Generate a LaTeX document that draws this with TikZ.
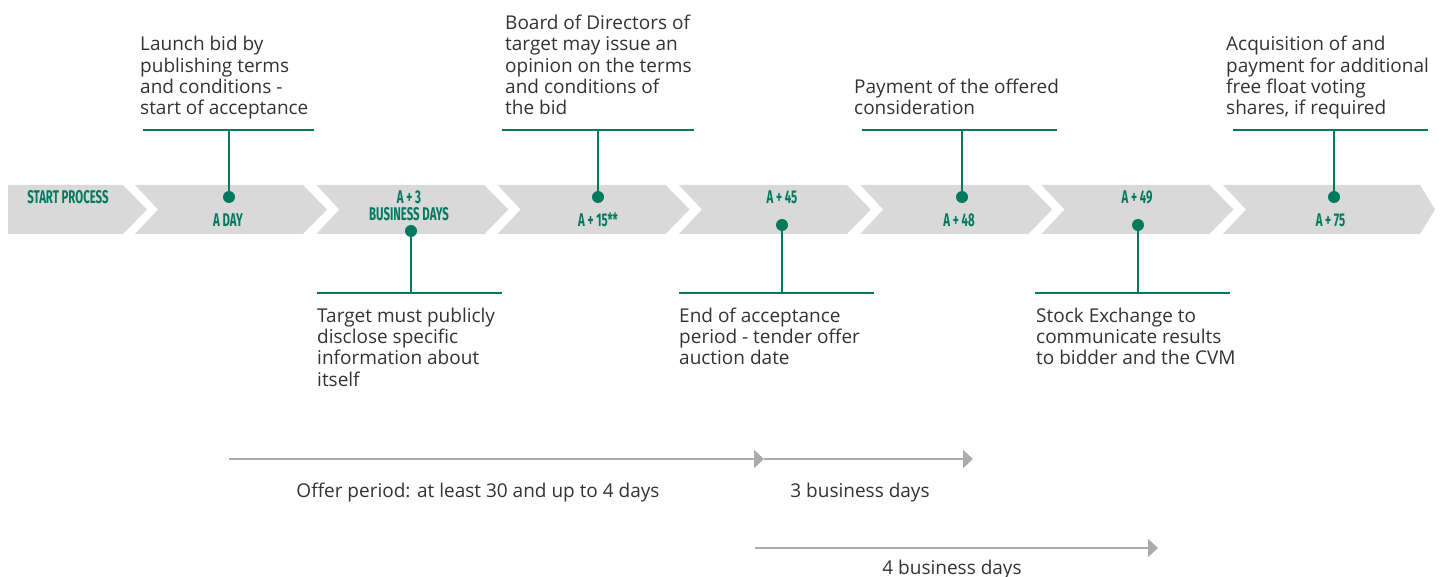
\documentclass[tikz,border=0pt]{standalone}
\usepackage{fontspec}
\setmainfont{Open Sans}
\newfontfamily\condfont[FakeStretch=0.62]{Fira Sans}
\usetikzlibrary{arrows.meta}
\definecolor{tgreen}{HTML}{007A5E}
\definecolor{chev}{HTML}{D9D9D9}
\definecolor{arrgray}{HTML}{ABABAB}
\definecolor{txt}{HTML}{333333}
\tikzset{
  lbl/.style={font=\condfont\bfseries\fontsize{18.4}{18}\selectfont, text=tgreen, inner sep=0, anchor=base},
  note/.style={font=\fontsize{19}{21.4}\selectfont, text=txt, align=left, inner sep=0, anchor=base west},
  dot/.style={circle, fill=tgreen, minimum size=12, inner sep=0},
  stem/.style={tgreen, line width=2},
  rulestyle/.style={tgreen, line width=2},
  span/.style={arrgray, line width=2, -{Triangle[length=10, width=18]}},
  spanlbl/.style={font=\fontsize{19}{21}\selectfont, text=txt, inner sep=0, anchor=base},
  chevfill/.style={fill=chev}
}
\begin{document}
\begin{tikzpicture}[x=1pt,y=-1pt]
\useasboundingbox (0,0) rectangle (1446,577);

% chevrons
\fill[chevfill] (8,185) -- (123,185) -- (147,209.5) -- (123,234) -- (8,234) -- cycle;
\foreach \k in {0,...,5}{
  \pgfmathsetmacro{\s}{135+181.3*\k}
  \fill[chevfill] (\s,185) -- ({\s+168},185) -- ({\s+192},209.5) -- ({\s+168},234) -- (\s,234) -- ({\s+23},209.5) -- cycle;
}
\fill[chevfill] (1223,185) -- (1420,185) -- (1435,209.5) -- (1420,234) -- (1223,234) -- (1246,209.5) -- cycle;

% chevron labels
\node[lbl] (c0) at (68,203.4) {START PROCESS};
\node[lbl] (c1) at (228,226.7) {A DAY};
\node[lbl] (c2a) at (409,203.3) {A + 3};
\node[lbl] (c2b) at (409,220.8) {BUSINESS DAYS};
\node[lbl] (c3) at (598,226.7) {A + 15**};
\node[lbl] (c4) at (782,203.3) {A + 45};
\node[lbl] (c5) at (959,226.7) {A + 48};
\node[lbl] (c6) at (1137,203.3) {A + 49};
\node[lbl] (c7) at (1330.5,226.7) {A + 75};

% dots
\node[dot] (d1) at (229,197) {};
\node[dot] (d2) at (411,231) {};
\node[dot] (d3) at (598,197) {};
\node[dot] (d4) at (782,225) {};
\node[dot] (d5) at (962,197) {};
\node[dot] (d6) at (1138,225) {};
\node[dot] (d7) at (1334,197) {};

% rules
\coordinate (r1a) at (143,130); \coordinate (r1b) at (314,130);
\coordinate (r2a) at (317,293); \coordinate (r2b) at (502,293);
\coordinate (r3a) at (502,130); \coordinate (r3b) at (694,130);
\coordinate (r4a) at (679,293); \coordinate (r4b) at (874,293);
\coordinate (r5a) at (862,130); \coordinate (r5b) at (1057,130);
\coordinate (r6a) at (1035,293); \coordinate (r6b) at (1230,293);
\coordinate (r7a) at (1233,130); \coordinate (r7b) at (1428,130);
\foreach \i in {1,...,7}{
  \draw[rulestyle] (r\i a) -- (r\i b);
  \draw[stem] (d\i.center) -- (d\i.center |- r\i a);
}

% notes (anchored at the baseline of the last line)
\node[note] (n1) at (140,115) {Launch bid by\\publishing terms\\and conditions -\\start of acceptance};
\node[note] (n2) at (317,386.2) {Target must publicly\\disclose specific\\information about\\itself};
\node[note] (n3) at (505,115) {Board of Directors of\\target may issue an\\opinion on the terms\\and conditions of\\the bid};
\node[note] (n4) at (679,364.8) {End of acceptance\\period - tender offer\\auction date};
\node[note] (n5) at (854,115) {Payment of the offered\\consideration};
\node[note] (n6) at (1036,364.8) {Stock Exchange to\\communicate results\\to bidder and the CVM};
\node[note] (n7) at (1226,115) {Acquisition of and\\payment for additional\\free float voting\\shares, if required};

% spans
\coordinate (s1) at (229,459);
\coordinate (s2) at (764,459);
\coordinate (s3) at (973,459);
\coordinate (s4) at (755,548);
\coordinate (s5) at (1158,548);
\draw[span] (s1) -- (s2);
\draw[span] (s2) -- (s3);
\draw[span] (s4) -- (s5);
\node[spanlbl] (l1) at (478,497) {Offer period: at least 30 and up to 4 days};
\node[spanlbl] (l2) at (860,497) {3 business days};
\node[spanlbl] (l3) at (952,574) {4 business days};
\end{tikzpicture}
\end{document}
